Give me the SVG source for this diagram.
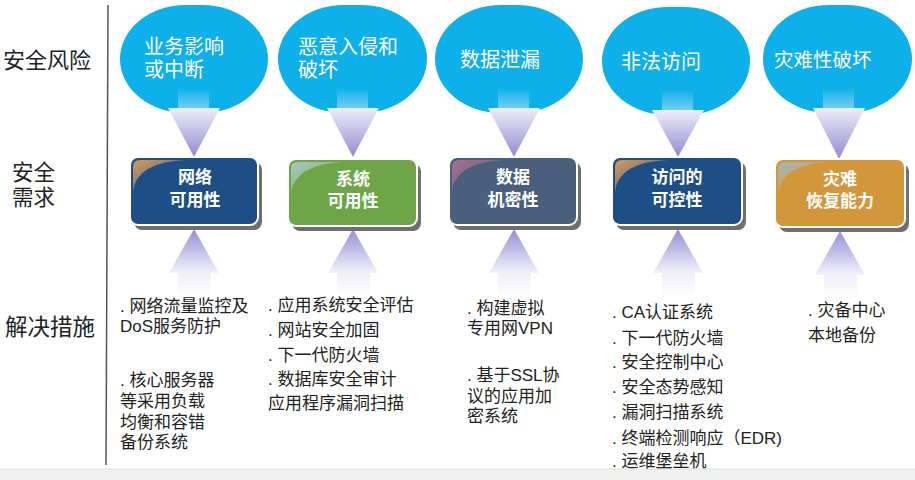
<svg xmlns="http://www.w3.org/2000/svg" width="915" height="480" viewBox="0 0 915 480">
<style>
.lbl{font-family:"Liberation Sans","Noto Sans CJK SC",sans-serif;font-size:21.5px;fill:#222}
.risk{font-family:"Liberation Sans","Noto Sans CJK SC",sans-serif;font-size:20px;fill:#fff}
.blob{fill:#0eb0ea}
.box{stroke:#fff;stroke-width:2}
.shadow{fill:#6f6f6f}
.btxt{font-family:"Liberation Sans","Noto Sans CJK SC",sans-serif;font-size:17px;font-weight:bold;fill:#fff;text-anchor:middle}
.sol{font-family:"Liberation Sans","Noto Sans CJK SC",sans-serif;font-size:17px;fill:#222}
.dtri{fill:url(#gDown)}
.utri{fill:url(#gUp)}
.dstem{fill:url(#gStemD)}
.ustem{fill:url(#gStemU)}
</style>
<defs>
<linearGradient id="gDown" x1="0" y1="0" x2="0" y2="1">
<stop offset="0" stop-color="#eeeef9"/>
<stop offset="1" stop-color="#928ad0"/>
</linearGradient>
<linearGradient id="gUp" x1="0" y1="0" x2="0" y2="1">
<stop offset="0" stop-color="#958ed4"/>
<stop offset="1" stop-color="#f3f3fb"/>
</linearGradient>
<linearGradient id="gStemD" x1="0" y1="0" x2="0" y2="1">
<stop offset="0" stop-color="#10b0ea"/>
<stop offset="1" stop-color="#74cdf3"/>
</linearGradient>
<linearGradient id="gStemU" x1="0" y1="0" x2="0" y2="1">
<stop offset="0" stop-color="#efeff8"/>
<stop offset="1" stop-color="#ffffff"/>
</linearGradient>
<linearGradient id="glOr" x1="0" y1="0" x2="1" y2="1">
<stop offset="0" stop-color="#d49a62"/>
<stop offset="1" stop-color="#d49a62" stop-opacity="0.1"/>
</linearGradient>
<linearGradient id="glTeal" x1="0" y1="0" x2="1" y2="1">
<stop offset="0" stop-color="#a9c8bf"/>
<stop offset="1" stop-color="#a9c8bf" stop-opacity="0.1"/>
</linearGradient>
<linearGradient id="glPink" x1="0" y1="0" x2="1" y2="1">
<stop offset="0" stop-color="#a7708f"/>
<stop offset="1" stop-color="#a7708f" stop-opacity="0.1"/>
</linearGradient>
<linearGradient id="glGray" x1="0" y1="0" x2="1" y2="1">
<stop offset="0" stop-color="#a9b6ae"/>
<stop offset="1" stop-color="#a9b6ae" stop-opacity="0.1"/>
</linearGradient>
</defs>

<rect x="0" y="0" width="915" height="480" fill="#fff"/>
<rect x="0" y="469" width="915" height="11" fill="#eef1ee"/>
<line x1="0" y1="469" x2="915" y2="469" stroke="#dde3dd" stroke-width="1"/>

<g id="row-labels">
<line x1="108" y1="5" x2="106" y2="465" stroke="#555" stroke-width="1.5"/>
<text class="lbl" x="3" y="68" style="font-size:22px">安全风险</text>
<text class="lbl" x="12" y="180">安全</text>
<text class="lbl" x="12" y="205">需求</text>
<text class="lbl" x="5" y="335" style="font-size:22.5px">解决措施</text>
</g>

<g id="risk-1"><rect class="blob" x="120" y="5" width="148" height="108" rx="66" ry="54"/>
<text class="risk" x="144" y="54">业务影响</text><text class="risk" x="144" y="77">或中断</text></g>
<g id="risk-2"><rect class="blob" x="278" y="5" width="149" height="108" rx="66" ry="54"/>
<text class="risk" x="298" y="54">恶意入侵和</text><text class="risk" x="298" y="77">破坏</text></g>
<g id="risk-3"><rect class="blob" x="435" y="5" width="148" height="108" rx="66" ry="54"/>
<text class="risk" x="460" y="67">数据泄漏</text></g>
<g id="risk-4"><rect class="blob" x="602" y="7" width="148" height="108" rx="66" ry="54"/>
<text class="risk" x="621" y="69">非法访问</text></g>
<g id="risk-5"><rect class="blob" x="763" y="5" width="149" height="108" rx="66" ry="54"/>
<text class="risk" x="774" y="67" style="font-size:19.5px">灾难性破坏</text></g>

<g id="connectors">
<rect class="dstem" x="178" y="88" width="31" height="20"/><polygon class="dtri" points="168,108 220,108 194,157"/>
<rect class="dstem" x="337" y="88" width="31" height="20"/><polygon class="dtri" points="327,108 379,108 353,157"/>
<rect class="dstem" x="498" y="88" width="31" height="20"/><polygon class="dtri" points="488,108 540,108 514,157"/>
<rect class="dstem" x="662" y="90" width="31" height="20"/><polygon class="dtri" points="652,110 704,110 678,157"/>
<rect class="dstem" x="823" y="88" width="31" height="20"/><polygon class="dtri" points="813,108 865,108 839,159"/>

<polygon class="utri" points="194,229 169,273 219,273"/><rect class="ustem" x="178" y="273" width="33" height="25"/>
<polygon class="utri" points="353,229 328,273 378,273"/><rect class="ustem" x="337" y="273" width="33" height="25"/>
<polygon class="utri" points="514,229 489,273 539,273"/><rect class="ustem" x="498" y="273" width="33" height="25"/>
<polygon class="utri" points="678,229 653,273 703,273"/><rect class="ustem" x="662" y="273" width="33" height="25"/>
<polygon class="utri" points="840,231 815,275 865,275"/><rect class="ustem" x="824" y="275" width="33" height="25"/>
</g>

<g id="req-1">
<rect class="shadow" x="134" y="162" width="128" height="68" rx="8"/>
<rect class="box" x="130" y="157" width="128" height="68" rx="8" fill="#1d4e86"/>
<path d="M133,192 Q136,162 186,160 L140,160 Q133,160 133,167 Z" fill="url(#glOr)"/>
<text class="btxt" x="195" y="183">网络</text><text class="btxt" x="195" y="206">可用性</text>
</g>
<g id="req-2">
<rect class="shadow" x="292" y="164" width="129" height="67" rx="8"/>
<rect class="box" x="288" y="159" width="129" height="67" rx="8" fill="#6da547"/>
<path d="M291,194 Q294,164 344,162 L298,162 Q291,162 291,169 Z" fill="url(#glTeal)"/>
<text class="btxt" x="353" y="185">系统</text><text class="btxt" x="353" y="207">可用性</text>
</g>
<g id="req-3">
<rect class="shadow" x="453" y="162" width="128" height="68" rx="8"/>
<rect class="box" x="449" y="157" width="128" height="68" rx="8" fill="#4a5f7b"/>
<path d="M452,192 Q455,162 505,160 L459,160 Q452,160 452,167 Z" fill="url(#glPink)"/>
<text class="btxt" x="513" y="183">数据</text><text class="btxt" x="513" y="206">机密性</text>
</g>
<g id="req-4">
<rect class="shadow" x="616" y="162" width="130" height="68" rx="8"/>
<rect class="box" x="612" y="157" width="130" height="68" rx="8" fill="#1d4e86"/>
<path d="M615,192 Q618,162 668,160 L622,160 Q615,160 615,167 Z" fill="url(#glOr)"/>
<text class="btxt" x="677" y="183">访问的</text><text class="btxt" x="677" y="206">可控性</text>
</g>
<g id="req-5">
<rect class="shadow" x="779" y="164" width="130" height="68" rx="8"/>
<rect class="box" x="775" y="159" width="130" height="68" rx="8" fill="#d4963a"/>
<path d="M778,194 Q781,164 831,162 L785,162 Q778,162 778,169 Z" fill="url(#glGray)"/>
<text class="btxt" x="840" y="185">灾难</text><text class="btxt" x="840" y="207">恢复能力</text>
</g>

<g id="sol-1">
<text class="sol" x="120" y="312">. 网络流量监控及</text>
<text class="sol" x="120" y="332">DoS服务防护</text>
<text class="sol" x="120" y="386">. 核心服务器</text>
<text class="sol" x="120" y="407">等采用负载</text>
<text class="sol" x="120" y="428">均衡和容错</text>
<text class="sol" x="120" y="448">备份系统</text>
</g>
<g id="sol-2">
<text class="sol" x="268" y="311">. 应用系统安全评估</text>
<text class="sol" x="268" y="336">. 网站安全加固</text>
<text class="sol" x="268" y="361">. 下一代防火墙</text>
<text class="sol" x="268" y="385">. 数据库安全审计</text>
<text class="sol" x="268" y="409">应用程序漏洞扫描</text>
</g>
<g id="sol-3">
<text class="sol" x="467" y="314">. 构建虚拟</text>
<text class="sol" x="467" y="334">专用网VPN</text>
<text class="sol" x="467" y="381">. 基于SSL协</text>
<text class="sol" x="467" y="402">议的应用加</text>
<text class="sol" x="467" y="422">密系统</text>
</g>
<g id="sol-4">
<text class="sol" x="612" y="318">. CA认证系统</text>
<text class="sol" x="612" y="344">. 下一代防火墙</text>
<text class="sol" x="612" y="368">. 安全控制中心</text>
<text class="sol" x="612" y="393">. 安全态势感知</text>
<text class="sol" x="612" y="418">. 漏洞扫描系统</text>
<text class="sol" x="612" y="444">. 终端检测响应（EDR)</text>
<text class="sol" x="612" y="467">. 运维堡垒机</text>
</g>
<g id="sol-5">
<text class="sol" x="808" y="316">. 灾备中心</text>
<text class="sol" x="808" y="341">本地备份</text>
</g>
</svg>
